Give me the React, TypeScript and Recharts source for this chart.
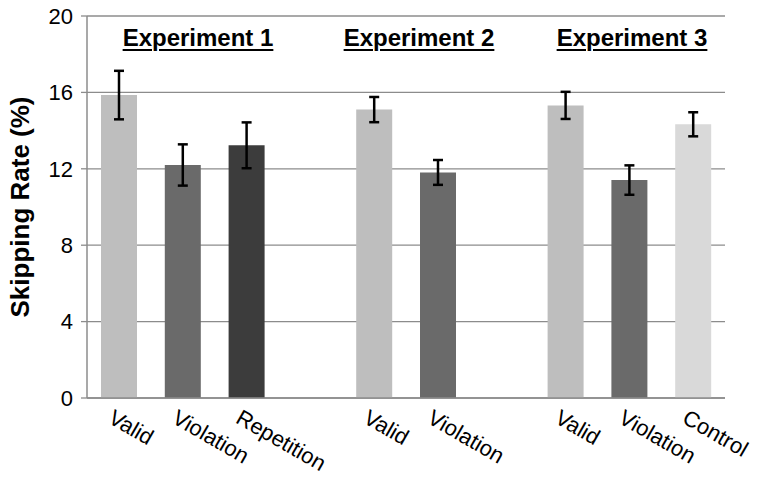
import { BarChart, Bar, XAxis, YAxis, CartesianGrid, ErrorBar, Cell } from 'recharts';

const categories = ['Valid', 'Violation', 'Repetition', '', 'Valid', 'Violation', '', 'Valid', 'Violation', 'Control'];
const skipRates = [15.86, 12.2, 13.23, null, 15.1, 11.81, null, 15.32, 11.41, 14.33];
const errors = [1.27, 1.08, 1.2, null, 0.66, 0.65, null, 0.71, 0.77, 0.63];
const yTicks = [0, 4, 8, 12, 16, 20];
const headings = ['Experiment 1', 'Experiment 2', 'Experiment 3'];

const barColors: Record<string, string> = {
  Valid: '#bebebe',
  Violation: '#6a6a6a',
  Repetition: '#3c3c3c',
  Control: '#d9d9d9',
};

const data = categories.map((name, i) => ({
  id: i,
  name,
  rate: skipRates[i],
  err: errors[i],
}));

const FONT = '"Liberation Sans", Arial, sans-serif';
const GRID = '#8c8c8c';

// heading centres in px
const headingX = [198, 419, 632];

function CategoryTick({ x, y, payload }: any) {
  const label = categories[payload.value] ?? '';
  return (
    <g transform={`translate(${x - 12},${y + 22}) rotate(30)`}>
      <text x={0} y={0} textAnchor="start" fontSize={22} fontFamily={FONT} fill="#000">
        {label}
      </text>
    </g>
  );
}

function YTitle({ viewBox }: any) {
  const cx = viewBox.x + 20;
  const cy = viewBox.y + viewBox.height / 2;
  return (
    <text
      x={cx}
      y={cy}
      transform={`rotate(-90, ${cx}, ${cy})`}
      textAnchor="middle"
      dominantBaseline="central"
      fontSize={26}
      fontWeight="bold"
      fontFamily={FONT}
      fill="#000"
    >
      Skipping Rate (%)
    </text>
  );
}

export default function App() {
  return (
    <div style={{ position: 'absolute', left: 0, top: 0, width: 759, height: 484, background: '#fff' }}>
      <BarChart
        width={759}
        height={484}
        data={data}
        margin={{ top: 16, right: 34, bottom: 0, left: 0 }}
      >
        <CartesianGrid vertical={false} stroke={GRID} strokeWidth={1.3} />
        <XAxis
          dataKey="id"
          type="category"
          height={86}
          tick={<CategoryTick />}
          tickLine={false}
          tickSize={0}
          axisLine={{ stroke: GRID, strokeWidth: 1.5 }}
          interval={0}
        />
        <YAxis
          width={87}
          domain={[0, 20]}
          ticks={yTicks}
          tickSize={6}
          tickMargin={8}
          tickLine={{ stroke: GRID, strokeWidth: 1.3 }}
          axisLine={{ stroke: GRID, strokeWidth: 1.5 }}
          tick={{ fontSize: 22, fontFamily: FONT, fill: '#000' }}
          label={<YTitle />}
        />
        <Bar dataKey="rate" barSize={36} isAnimationActive={false}>
          {data.map((d) => (
            <Cell key={d.id} fill={barColors[d.name] ?? '#fff'} />
          ))}
          <ErrorBar dataKey="err" width={5} stroke="#000" strokeWidth={2.5} isAnimationActive={false} />
        </Bar>
      </BarChart>
      {headings.map((h, i) => (
        <div
          key={h}
          style={{
            position: 'absolute',
            left: headingX[i] - 100,
            width: 200,
            top: 24,
            textAlign: 'center',
            fontFamily: FONT,
            fontWeight: 'bold',
            fontSize: 24,
            lineHeight: '28px',
            textDecoration: 'underline',
            textDecorationThickness: 2,
            textUnderlineOffset: 3,
            color: '#000',
          }}
        >
          {h}
        </div>
      ))}
    </div>
  );
}
